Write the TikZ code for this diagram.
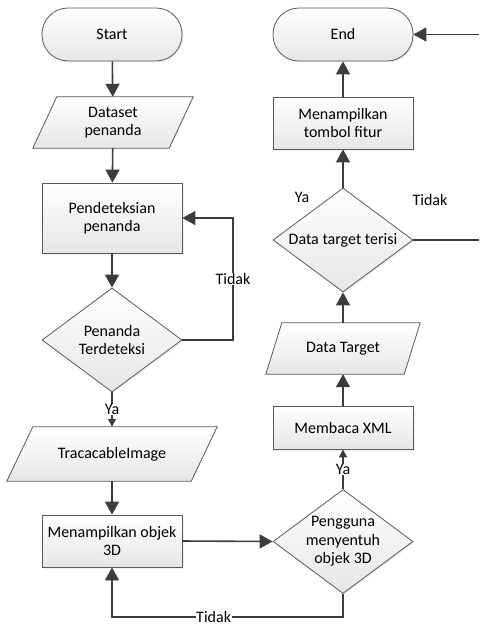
\documentclass[tikz,border=0pt]{standalone}
\usepackage{fontspec}
\setmainfont{Carlito}
\usetikzlibrary{arrows.meta,shadows,calc,shapes.geometric,backgrounds}

\definecolor{boxline}{HTML}{5A5A5A}
\definecolor{fillbot}{HTML}{E6E6E6}
\definecolor{conn}{HTML}{3C3C3C}

\tikzset{
  txt/.style={font=\fontsize{16}{18.5}\selectfont, align=center, text=black},
  shapebox/.style={txt, draw=boxline, line width=0.8pt, top color=white, bottom color=fillbot,
    minimum width=140pt, inner sep=2pt,
    drop shadow={opacity=0.12, shadow xshift=1.5pt, shadow yshift=-1.5pt}},
  term/.style={shapebox, rounded corners=26pt, minimum height=53pt},
  proc/.style={shapebox},
  dec/.style={shapebox, diamond, minimum width=140pt, minimum height=104pt, inner sep=0pt},
  iobox/.style={txt, inner sep=0pt},
  flow/.style={draw=conn, line width=1.6pt, -{Triangle[length=13pt,width=14pt]}},
  flowsmall/.style={draw=conn, line width=1.6pt, -{Triangle[length=8pt,width=8pt]}},
  line/.style={draw=conn, line width=1.6pt},
  lbl/.style={font=\fontsize{16}{18.5}\selectfont, text=black, fill=white, inner sep=0.5pt},
  freelbl/.style={font=\fontsize{16}{18.5}\selectfont, text=black, inner sep=0pt},
}

% parallelogram drawn behind an (undrawn) node: #1 node name, #2 slant
\newcommand\iopara[2]{%
  \begin{pgfonlayer}{background}
    \fill[black, opacity=0.12, shift={(1.5pt,-1.5pt)}]
      ($(#1.north west)+(#2,0)$) -- (#1.north east) -- ($(#1.south east)-(#2,0)$) -- (#1.south west) -- cycle;
    \shadedraw[draw=boxline, line width=0.8pt, top color=white, bottom color=fillbot]
      ($(#1.north west)+(#2,0)$) -- (#1.north east) -- ($(#1.south east)-(#2,0)$) -- (#1.south west) -- cycle;
  \end{pgfonlayer}}

\begin{document}
\begin{tikzpicture}[x=1pt, y=-1pt]
  \useasboundingbox (0,0) rectangle (479,626);

  % left column
  \node[term] (start) at (112,34.5) {Start};
  \node[iobox, minimum width=160pt, minimum height=51pt] (data1) at (113,122.5) {Dataset\\penanda};
  \iopara{data1}{24}
  \node[proc, minimum height=70pt] (proc1) at (112,218) {Pendeteksian\\penanda};
  \node[dec, label={[txt]center:Penanda\\Terdeteksi}] (dec1) at (112,340) {};
  \node[iobox, minimum width=210pt, minimum height=54pt] (data2) at (112,454) {TracacableImage};
  \iopara{data2}{26}
  \node[proc, minimum height=52pt] (proc2) at (112,541) {Menampilkan objek\\3D};

  % right column
  \node[dec, label={[txt]center:Pengguna\\menyentuh\\objek 3D}] (dec2) at (343,541.5) {};
  \node[proc, minimum height=43pt] (proc3) at (343,427.5) {Membaca XML};
  \node[iobox, minimum width=154pt, minimum height=51pt] (data3) at (343,348.5) {Data Target};
  \iopara{data3}{16}
  \node[dec, label={[txt]center:Data target terisi}] (dec3) at (343,240) {};
  \node[proc, minimum height=52pt] (proc4) at (343,123) {Menampilkan\\tombol fitur};
  \node[term] (end) at (343,34.5) {End};

  \coordinate (outR) at (479,240);
  \coordinate (inR) at (479,34.5);

  % connectors, left column
  \draw[flow] (start) -- (data1);
  \draw[flow] (data1) -- (proc1);
  \draw[flow] (proc1) -- (dec1);
  \draw[flow] (dec1.east) -- (233,340) -- node[lbl, pos=0.5] {Tidak} (233,218) -- (proc1.east);
  \draw[flowsmall] (dec1.south) -- node[lbl, pos=0.5] {Ya} (data2.north);
  \draw[flow] (data2) -- (proc2);
  \draw[flow] (proc2.east) -- (dec2.west);
  \draw[flow] (dec2.south) -- (343,617) -- node[lbl, inner ysep=0pt, pos=0.56] {Tidak} (112,617) -- (proc2.south);

  % connectors, right column
  \draw[flowsmall] (dec2.north) -- node[lbl, pos=0.5] {Ya} (proc3.south);
  \draw[flow] (proc3) -- (data3);
  \draw[flow] (data3) -- (dec3);
  \draw[flow] (dec3) -- (proc4);
  \draw[flow] (proc4) -- (end);
  \draw[line] (dec3.east) -- (outR);
  \draw[flow] (inR) -- (end.east);

  \node[freelbl] (yaR) at (302,197) {Ya};
  \node[freelbl] (tidakR) at (430,200) {Tidak};
\end{tikzpicture}
\end{document}
